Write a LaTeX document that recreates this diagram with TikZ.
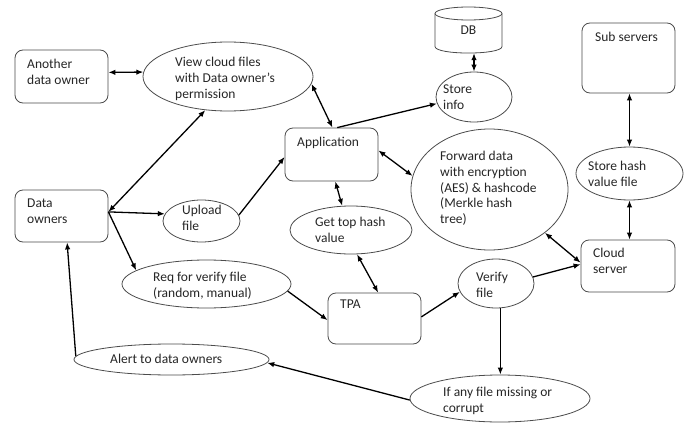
\documentclass[tikz,border=0pt]{standalone}
\usepackage{fontspec}
\setmainfont{Carlito}
\usetikzlibrary{arrows.meta,calc,shapes.geometric}

\begin{document}
\begin{tikzpicture}[x=1pt,y=-1pt,
  box/.style={draw=black!70, line width=0.8pt, rounded corners=8pt, inner sep=0pt},
  oval/.style={ellipse, draw=black!70, line width=0.8pt, inner sep=0pt},
  % labels are placed by the baseline of their last line
  txt/.style={anchor=base west, align=left, inner sep=0pt,
    font=\fontsize{13.5}{15.8}\selectfont, text=black!85},
  tip/.tip={Latex[length=7pt,width=5.5pt]},
  link/.style={line width=1.3pt, -tip},
  both/.style={line width=1.3pt, tip-tip},
]
\fill[white] (0,0) rectangle (691,423);
\useasboundingbox (0,0) rectangle (691,423);

% ---- boxes ----
\node[box, minimum width=93pt, minimum height=53pt] (another) at (61.5,76.5) {};
\node[box, minimum width=93pt, minimum height=52pt] (owners)  at (61.5,216) {};
\node[box, minimum width=93pt, minimum height=53pt] (app)     at (331.5,154.5) {};
\node[box, minimum width=93pt, minimum height=51pt] (tpa)     at (374.5,318.5) {};
\node[box, minimum width=93pt, minimum height=70pt] (sub)     at (628.5,58) {};
\node[box, minimum width=94pt, minimum height=52pt] (cloud)   at (628,266) {};

% ---- ellipses ----
\node[oval, minimum width=170pt, minimum height=69pt] (view)   at (228,76.5) {};
\node[oval, minimum width=77pt,  minimum height=42pt] (upload) at (201.5,221) {};
\node[oval, minimum width=122pt, minimum height=48pt] (gettop) at (351,230) {};
\node[oval, minimum width=169pt, minimum height=48pt] (req)    at (206.5,284) {};
\node[oval, minimum width=195pt, minimum height=31pt] (alert)  at (171.5,359.5) {};
\node[oval, minimum width=76pt,  minimum height=50pt] (store)  at (474,97) {};
\node[oval, minimum width=157pt, minimum height=121pt] (fwd)   at (489.5,189.5) {};
\node[oval, minimum width=107pt, minimum height=53pt] (hash)   at (629.5,173.5) {};
\node[oval, minimum width=76pt,  minimum height=49pt] (verify) at (496,283.5) {};
\node[oval, minimum width=180pt, minimum height=47pt] (ifany)  at (500,398.5) {};

% ---- database cylinder ----
\node[minimum width=67pt, minimum height=46pt, inner sep=0pt,
  font=\fontsize{13.5}{15.8}\selectfont, text=black!85] (db) at (468.5,30) {DB};
\draw[draw=black!70, line width=0.8pt]
  (468.5,13.5) ellipse [x radius=33.5pt, y radius=6.5pt];
\draw[draw=black!70, line width=0.8pt]
  (435,13.5) -- (435,46.5) .. controls (435,55.2) and (502,55.2) .. (502,46.5) -- (502,13.5);

% ---- labels ----
\node[txt] (t-another) at (27,84.3)   {Another\\data owner};
\node[txt] (t-view)    at (175,98.1)  {View cloud files\\with Data owner’s\\permission};
\node[txt] (t-owners)  at (27,223.3)  {Data\\owners};
\node[txt] (t-upload)  at (182,230.3) {Upload\\file};
\node[txt] (t-app)     at (297,146.5) {Application};
\node[txt] (t-gettop)  at (315,242.3) {Get top hash\\value};
\node[txt] (t-tpa)     at (340,308.5) {TPA};
\node[txt] (t-req)     at (153,297.3) {Req for verify file\\(random, manual)};
\node[txt] (t-alert)   at (110,363.5) {Alert to data owners};
\node[txt] (t-store)   at (443,109.3) {Store\\info};
\node[txt] (t-fwd)     at (440,223.7) {Forward data\\with encryption\\(AES) \& hashcode\\(Merkle hash\\tree)};
\node[txt] (t-sub)     at (595,41.5)  {Sub servers};
\node[txt] (t-hash)    at (588,186.3) {Store hash\\value file};
\node[txt] (t-cloud)   at (593,273.3) {Cloud\\server};
\node[txt] (t-verify)  at (476,297.3) {Verify\\file};
\node[txt] (t-ifany)   at (443,412.3) {If any file missing or\\corrupt};

% ---- connectors ----
\draw[both] (another.5) -- (view.177);
\draw[both] (owners.5) -- (view.236);
\draw[link] (owners.5) -- (upload.169);
\draw[link] (owners.5) -- (req.169);
\draw[link] (upload.9) -- (app.183);
\draw[both] (view.-5) -- (app.88);
\draw[link] (app.78) -- (store.190);
\draw[both] (store.north |- db.south) -- (store.north);
\draw[both] (app.5) -- (fwd.170);
\draw[both] (app.-82) -- (gettop.110);
\draw[both] (gettop.-76) -- (tpa.82);
\draw[link] (req.-5) -- (tpa.182);
\draw[link] (tpa.2) -- (verify.193);
\draw[link] (verify.10) -- (cloud.178);
\draw[both] (fwd.-38) -- (cloud.176);
\draw[both] (hash.north |- sub.south) -- (hash.north);
\draw[both] (hash.south) -- (hash.south |- cloud.north);
\draw[link] (verify.-80) -- (verify.-80 |- ifany.north);
\draw[link] (ifany.181) -- (alert.-2);
\draw[link] (alert.178) -- (owners.-78);
\end{tikzpicture}
\end{document}
